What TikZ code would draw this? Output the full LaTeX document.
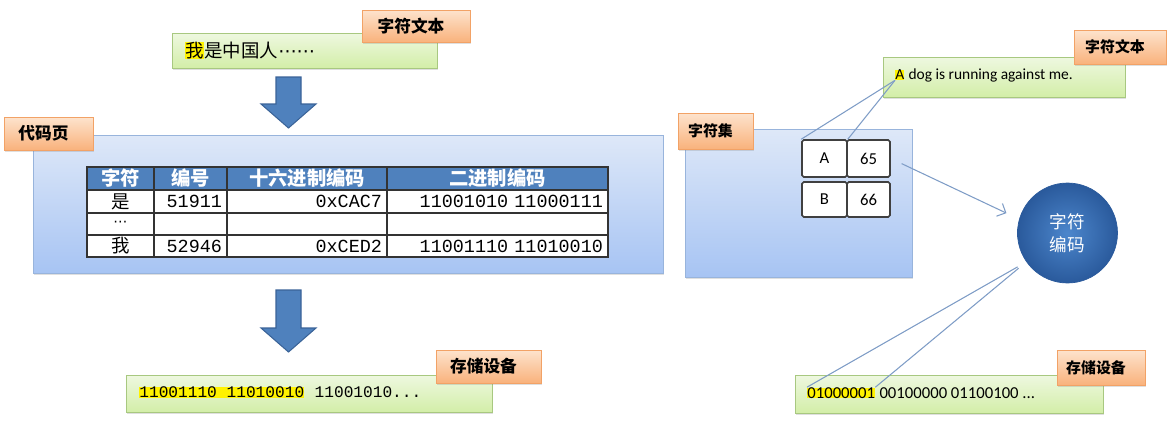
\documentclass[tikz,border=0pt]{standalone}
\usepackage{fontspec}
\setmainfont{Carlito}
\newfontfamily\cjk{Noto Sans CJK SC}
\newfontfamily\mono{Liberation Mono}
\newfontfamily\sym{DejaVu Sans}
\usetikzlibrary{positioning}
\usetikzlibrary{shadows}
\usetikzlibrary{arrows.meta}

\definecolor{greenTop}{HTML}{EEF8E0}
\definecolor{greenBot}{HTML}{D3EEA8}
\definecolor{greenEdge}{HTML}{A8C880}
\definecolor{tagTop}{HTML}{FDE3CD}
\definecolor{tagBot}{HTML}{F9B27C}
\definecolor{tagEdge}{HTML}{F2A266}
\definecolor{pageTop}{HTML}{DEE8F8}
\definecolor{pageBot}{HTML}{A7C4F3}
\definecolor{pageEdge}{HTML}{98B4DC}
\definecolor{headBlue}{HTML}{4F81BD}
\definecolor{arrowEdge}{HTML}{3A6398}
\definecolor{linkBlue}{HTML}{7E9CC6}
\definecolor{codecIn}{HTML}{4C86CC}
\definecolor{codecOut}{HTML}{2A5A9C}

\tikzset{
  textbox/.style={draw=greenEdge, top color=greenTop, bottom color=greenBot, inner sep=0pt,
    drop shadow={opacity=0.25, shadow xshift=0.6pt, shadow yshift=-1pt}},
  tag/.style={draw=tagEdge, top color=tagTop, bottom color=tagBot, inner sep=0pt,
    drop shadow={opacity=0.25, shadow xshift=0.6pt, shadow yshift=-1pt},
    font=\cjk\bfseries\fontsize{9.5}{11}\selectfont, execute at end node=\kern0.2cm},
  smalltag/.style={tag, font=\cjk\bfseries\fontsize{8.5}{10}\selectfont},
  page/.style={draw=pageEdge, top color=pageTop, bottom color=pageBot, inner sep=0pt,
    drop shadow={opacity=0.25, shadow xshift=0.6pt, shadow yshift=-1pt}},
  hilite/.style={fill=yellow, inner sep=0pt},
  headcell/.style={draw=black!80, line width=0.8pt, fill=headBlue, text=white, inner sep=0pt,
    font=\cjk\bfseries\fontsize{11}{13}\selectfont},
  cell/.style={draw=black!80, line width=0.8pt, fill=white, inner ysep=0pt, inner xsep=0.1cm,
    font=\mono\fontsize{10.5}{12}\selectfont},
  setcell/.style={draw=black!75, line width=0.9pt, fill=white, rounded corners=1pt, inner sep=0pt,
    font=\fontsize{9.5}{11}\selectfont},
  link/.style={draw=linkBlue, line width=0.6pt},
  blockarrow/.style={fill=headBlue, draw=arrowEdge, line width=0.6pt},
}

\begin{document}
\begin{tikzpicture}[x=0.02cm, y=-0.02cm, >={Straight Barb[length=4pt,width=8pt]}]
\useasboundingbox (0,0) rectangle (1172,436);

% left half: code page
\node (zhbox) at (304.5,50.5) [textbox, minimum width=5.3cm, minimum height=0.7cm] {};
\node (hlwo) at (185,50.5) [hilite, anchor=west, font=\cjk\fontsize{10.5}{12}\selectfont] {我};
\node (zhrest) at (hlwo.base east) [anchor=base west, inner sep=0pt, font=\cjk\fontsize{10.5}{12}\selectfont] {是中国人{\sym ⋯⋯}};
\node (zhtag) at (416,26) [tag, minimum width=2.16cm, minimum height=0.64cm] {字符文本};

\draw [blockarrow] (276,77) -- (301,77) -- (301,104) -- (316,104) -- (288.5,128) -- (261,104) -- (276,104) -- cycle;

\node (pagebox) at (348,204) [page, minimum width=12.6cm, minimum height=2.76cm] {};
\node (pagetag) at (48.5,133.5) [tag, minimum width=1.78cm, minimum height=0.66cm] {代码页};

\foreach \name/\txt/\x/\w in {head1/字符/120.5/1.34, head2/编号/190.5/1.46, head3/十六进制编码/307/3.2, head4/二进制编码/497.5/4.42}
  \node (\name) at (\x,178.5) [headcell, minimum width=\w cm, minimum height=0.46cm] {\txt};

\foreach \r/\y/\h/\ch/\num/\hex/\bin in {1/201.5/0.46/是/51911/0xCAC7/11001010 11000111, 2/224/0.44/{\sym\fontsize{8}{9}\selectfont ⋯}/{}/{}/{}, 3/246/0.44/我/52946/0xCED2/11001110 11010010} {
  \node (row\r-ch) at (120.5,\y) [cell, minimum width=1.34cm, minimum height=\h cm, font=\cjk\fontsize{10.5}{12}\selectfont] {\ch};
  \node (row\r-num) at (190.5,\y) [cell, text width=1.26cm, align=right, minimum height=\h cm] {\num};
  \node (row\r-hex) at (307,\y) [cell, text width=3.0cm, align=right, minimum height=\h cm] {\hex};
  \node (row\r-bin) at (497.5,\y) [cell, text width=4.22cm, align=right, minimum height=\h cm] {\bin};
}

\draw [blockarrow] (276,290) -- (301,290) -- (301,328) -- (316,328) -- (288.5,352) -- (261,328) -- (276,328) -- cycle;

\node (binbox) at (309,393.5) [textbox, minimum width=7.32cm, minimum height=0.74cm] {};
\node (hlbin) at (139,392.5) [hilite, anchor=west, font=\mono\fontsize{9.2}{11}\selectfont] {11001110 11010010};
\node (binrest) at (hlbin.base east) [anchor=base west, inner sep=0pt, font=\mono\fontsize{9.2}{11}\selectfont] {\ 11001010...};
\node (bintag) at (488.5,366.5) [tag, minimum width=2.1cm, minimum height=0.66cm] {存储设备};

% right half: character set
\node (enbox) at (1004,77) [textbox, minimum width=4.84cm, minimum height=0.8cm] {};
\node (hlA) at (895,75) [hilite, anchor=west, font=\fontsize{8.8}{11}\selectfont] {A};
\node (enrest) at (hlA.base east) [anchor=base west, inner sep=0pt, font=\fontsize{8.8}{11}\selectfont] {\ dog is running against me.};
\node (entag) at (1120,47) [smalltag, minimum width=1.84cm, minimum height=0.68cm] {字符文本};

\node (setbox) at (798.5,203) [page, minimum width=4.54cm, minimum height=2.96cm] {};
\node (settag) at (715.5,131) [smalltag, minimum width=1.5cm, minimum height=0.72cm] {字符集};
\node (cellA) at (824.5,158.5) [setcell, minimum width=0.9cm, minimum height=0.74cm] {A};
\node (cell65) at (868.5,158.5) [setcell, minimum width=0.86cm, minimum height=0.74cm] {65};
\node (cellB) at (824.5,199.5) [setcell, minimum width=0.9cm, minimum height=0.7cm] {B};
\node (cell66) at (868.5,199.5) [setcell, minimum width=0.86cm, minimum height=0.7cm] {66};

\node (codec) at (1067.5,233) [circle, minimum size=2cm, inner sep=0pt, inner color=codecIn, outer color=codecOut, draw=codecOut, text=white, align=center, font=\cjk\fontsize{10}{13}\selectfont] {字符\\编码};

\node (codebox) at (949,394) [textbox, minimum width=6.16cm, minimum height=0.76cm] {};
\node (hlcode) at (807,393) [hilite, anchor=west, font=\fontsize{9.5}{11}\selectfont] {01000001};
\node (coderest) at (hlcode.base east) [anchor=base west, inner sep=0pt, font=\fontsize{9.5}{11}\selectfont] {\ 00100000 01100100 ...};
\node (codetag) at (1101,367.5) [smalltag, minimum width=1.76cm, minimum height=0.7cm] {存储设备};

\draw [link] (cellA.north west) -- (hlA.south west);
\draw [link] (cellA.north east) -- (hlA.south west);
\draw [link, ->, shorten <=0.24cm, shorten >=0.28cm] (cell65.east) -- (codec.164);
\draw [link, shorten <=0.2cm] (codec.215) -- (hlcode.north west);
\draw [link, shorten <=0.2cm] (codec.215) -- (hlcode.north east);
\end{tikzpicture}
\end{document}
